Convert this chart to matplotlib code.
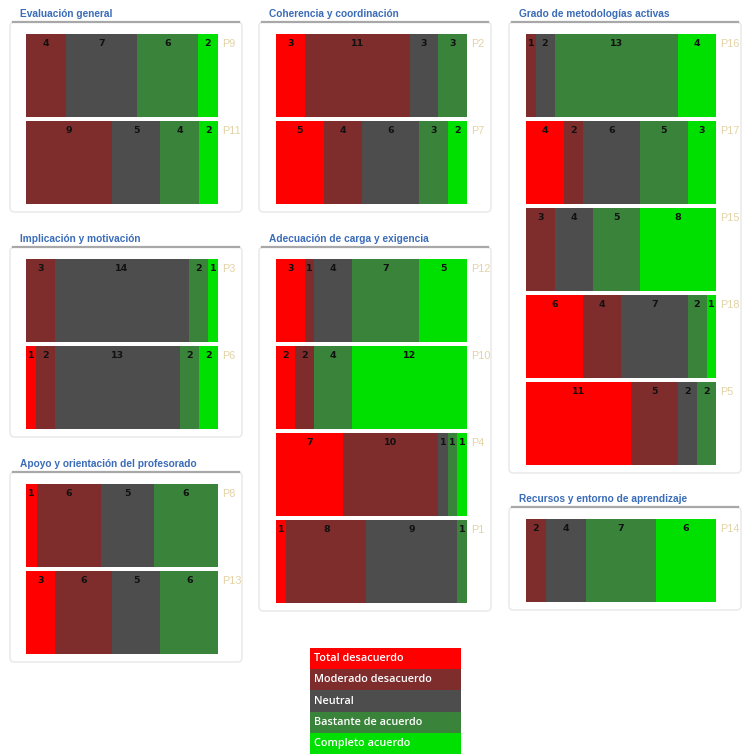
import matplotlib
matplotlib.use("Agg")
import matplotlib.pyplot as plt
from matplotlib.patches import FancyBboxPatch, Rectangle
from matplotlib.lines import Line2D

# ---------------- data ----------------
categories = ["Total desacuerdo", "Moderado desacuerdo", "Neutral",
              "Bastante de acuerdo", "Completo acuerdo"]
colors = ["#ff0000", "#7f2c2c", "#4d4d4d", "#3a833a", "#00e000"]

titles = ["Evaluación general", "Implicación y motivación",
          "Apoyo y orientación del profesorado", "Coherencia y coordinación",
          "Adecuación de carga y exigencia", "Grado de metodologías activas",
          "Recursos y entorno de aprendizaje"]

q_eval = ["P9", "P11"]
v_eval = [[0, 4, 7, 6, 2], [0, 9, 5, 4, 2]]
q_impl = ["P3", "P6"]
v_impl = [[0, 3, 14, 2, 1], [1, 2, 13, 2, 2]]
q_apoyo = ["P8", "P13"]
v_apoyo = [[1, 6, 5, 6, 0], [3, 6, 5, 6, 0]]
q_coher = ["P2", "P7"]
v_coher = [[3, 11, 3, 3, 0], [5, 4, 6, 3, 2]]
q_carga = ["P12", "P10", "P4", "P1"]
v_carga = [[3, 1, 4, 7, 5], [2, 2, 0, 4, 12], [7, 10, 1, 1, 1], [1, 8, 9, 1, 0]]
q_metod = ["P16", "P17", "P15", "P18", "P5"]
v_metod = [[0, 1, 2, 13, 4], [4, 2, 6, 5, 3], [0, 3, 4, 5, 8],
           [6, 4, 7, 2, 1], [11, 5, 2, 2, 0]]
q_recur = ["P14"]
v_recur = [[0, 2, 4, 7, 6]]

# ---------------- layout (pixels) ----------------
W, H = 746, 754
fig = plt.figure(figsize=(W / 100, H / 100), dpi=100)
fig.patch.set_facecolor("white")

def fx(x):
    return x / W

def fy(y):
    return 1 - y / H

PITCH = 87
BAR_H = 83
col_frame = [(10, 242), (259, 491), (509, 741)]
col_bars = [(26, 218), (276, 467), (526, 716)]

panels = [
    # (col, title, questions, values, bars_top)
    (0, titles[0], q_eval, v_eval, 34),
    (0, titles[1], q_impl, v_impl, 259),
    (0, titles[2], q_apoyo, v_apoyo, 484),
    (1, titles[3], q_coher, v_coher, 34),
    (1, titles[4], q_carga, v_carga, 259),
    (2, titles[5], q_metod, v_metod, 34),
    (2, titles[6], q_recur, v_recur, 519),
]

title_font = ["Liberation Sans", "DejaVu Sans"]
num_font = ["DejaVu Sans"]

for col, title, qs, vals, top in panels:
    n = len(qs)
    fl, fr = col_frame[col]
    bl, br = col_bars[col]
    ftop = top - 12
    fbot = top + (n - 1) * PITCH + BAR_H + 8
    # frame
    box = FancyBboxPatch((fx(fl), fy(fbot)), fx(fr) - fx(fl), fy(ftop) - fy(fbot),
                         boxstyle="round,pad=0,rounding_size=0.006",
                         transform=fig.transFigure, facecolor="white",
                         edgecolor="#ebebeb", linewidth=1.2, zorder=0)
    fig.add_artist(box)
    fig.add_artist(Line2D([fx(fl + 3), fx(fr - 3)], [fy(ftop), fy(ftop)],
                          transform=fig.transFigure, color="#a8a8a8",
                          linewidth=1.6, zorder=1))
    # title
    fig.text(fx(fl + 10), fy(ftop - 8), title, color="#3b6cb8",
             fontsize=7.3, fontweight="bold", family=title_font,
             va="center", ha="left")
    # bars axes
    hpx = (n - 1) * PITCH + BAR_H
    ax = fig.add_axes([fx(bl), fy(top + hpx), fx(br) - fx(bl), hpx / H])
    h = BAR_H / PITCH
    for i, (q, row) in enumerate(zip(qs, vals)):
        total = sum(row)
        left = 0.0
        for k, v in enumerate(row):
            if v == 0:
                continue
            w = v / total
            ax.barh(i, w, left=left, height=h, color=colors[k],
                    edgecolor="none", linewidth=0)
            ax.annotate(str(v), xy=(left + w / 2, i - h / 2),
                        xytext=(0, -6.8), textcoords="offset points",
                        ha="center", va="center", fontsize=6.8,
                        fontweight="bold", color="#111111",
                        family=num_font)
            left += w
        ax.annotate(q, xy=(1, i - h / 2), xytext=(3.0, -7.0),
                    textcoords="offset points", ha="left", va="center",
                    fontsize=7.8, color="#e2d3a6", family=title_font,
                    annotation_clip=False)
    ax.set_xlim(0, 1)
    ax.set_ylim((n - 1) + h / 2, -h / 2)
    ax.axis("off")

# ---------------- legend ----------------
lx0, lx1 = 310, 461
ly0 = 648
row_h = 21.2
for k, (cat, c) in enumerate(zip(categories, colors)):
    y0 = ly0 + k * row_h
    fig.add_artist(Rectangle((fx(lx0), fy(y0 + row_h)), fx(lx1) - fx(lx0),
                             row_h / H, transform=fig.transFigure,
                             facecolor=c, edgecolor="none"))
    fig.text(fx(lx0 + 4), fy(y0 + row_h / 2), cat, color="white",
             fontsize=7.8, family=["Open Sans", "DejaVu Sans"],
             fontweight="semibold", va="center", ha="left")

fig.savefig("out.png", dpi=100, facecolor="white")
